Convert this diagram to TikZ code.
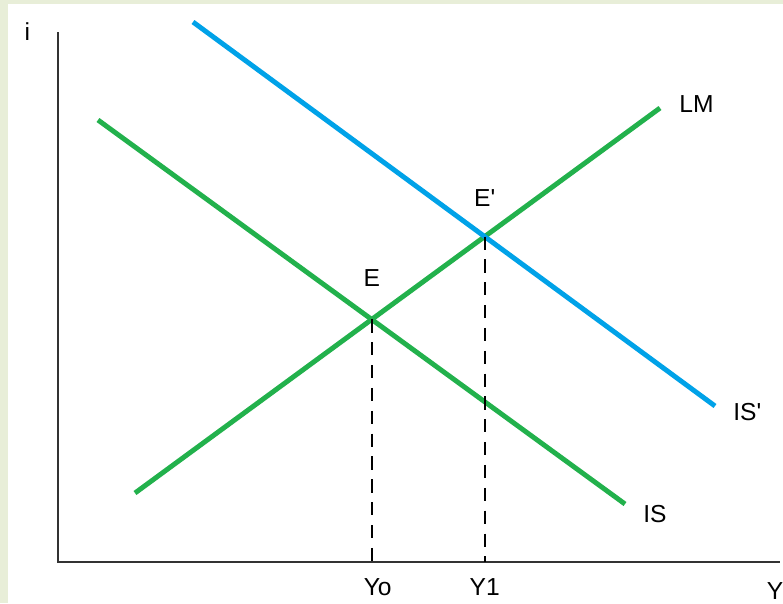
\documentclass[tikz,border=0pt]{standalone}
\usepackage{fontspec}
\setmainfont{Liberation Sans}[Ligatures=TeXOff]
\definecolor{paintgreen}{HTML}{22B14C}
\definecolor{skyblue}{HTML}{00A2E8}
\definecolor{framebeige}{HTML}{E8EED8}
\usetikzlibrary{positioning}

\begin{document}
\begin{tikzpicture}[x=0.02cm,y=-0.02cm,
    curve/.style={line width=2.8pt},
    axisline/.style={line width=1.2pt,black!80},
    guide/.style={line width=1.1pt,dash pattern=on 7.5pt off 5.5pt},
    lbl/.style={font=\fontsize{14}{16}\selectfont,inner sep=0pt}]
  % Frame
  \fill[framebeige] (0,0) rectangle (783,603);
  \fill[white] (8,4) rectangle (783,603);
  \useasboundingbox (0,0) rectangle (783,603);

  % Axes
  \coordinate (origin) at (58,562);
  \coordinate (ytop) at (58,32);
  \coordinate (xend) at (780,562);
  \draw[axisline] (ytop) -- (origin) -- (xend);
  \node[lbl,left=0.55cm of ytop] (ilabel) {i};
  \node[lbl,below=0.4cm of xend,xshift=-0.1cm] (ylabel) {Y};

  % Curves
  \coordinate (lmlow) at (135,493);
  \coordinate (lmtop) at (660,108);
  \coordinate (istop) at (98,120);
  \coordinate (islow) at (625,504);
  \coordinate (isptop) at (193,22);
  \coordinate (isplow) at (715,406);
  \draw[curve,paintgreen] (lmlow) -- (lmtop);
  \draw[curve,paintgreen] (istop) -- (islow);
  \draw[curve,skyblue] (isptop) -- (isplow);
  \node[lbl,right=0.38cm of lmtop,yshift=0.08cm] (lmlabel) {LM};
  \node[lbl,right=0.36cm of islow,yshift=-0.2cm] (islabel) {IS};
  \node[lbl,right=0.36cm of isplow,yshift=-0.12cm] (isplabel) {IS'};

  % Equilibria
  \coordinate (E) at (intersection of lmlow--lmtop and istop--islow);
  \coordinate (E1) at (intersection of lmlow--lmtop and isptop--isplow);
  \node[lbl,above=0.66cm of E] (elabel) {E};
  \node[lbl,above=0.6cm of E1] (e1label) {E'};
  \draw[guide] (E) -- (E |- origin) node[lbl,below=0.32cm,xshift=0.12cm] (y0label) {Yo};
  \draw[guide] (E1) -- (E1 |- origin) node[lbl,below=0.32cm] (y1label) {Y1};
\end{tikzpicture}
\end{document}
